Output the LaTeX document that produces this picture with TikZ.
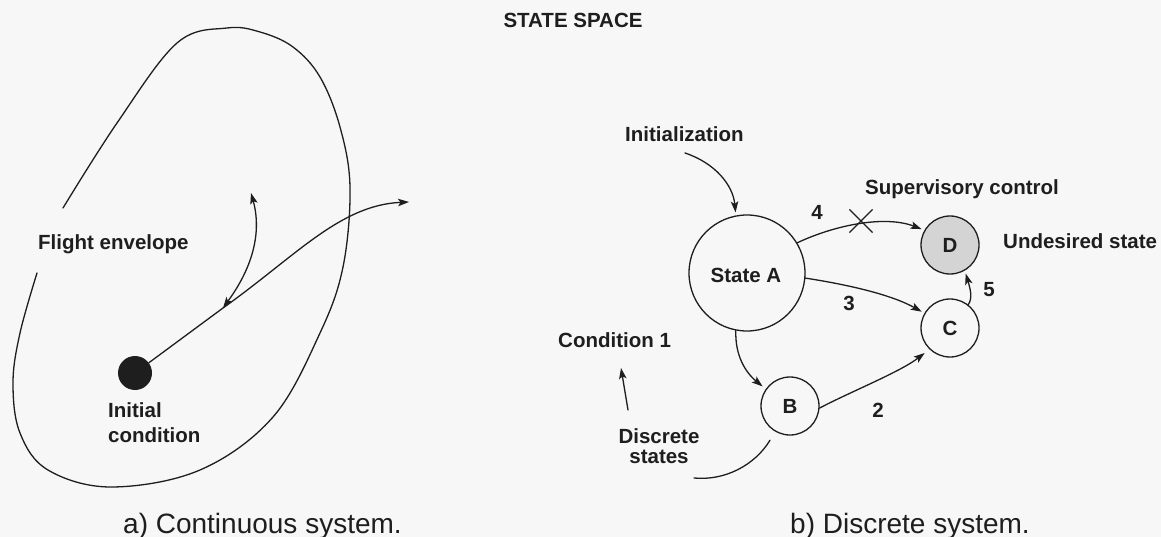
\documentclass[tikz,border=0pt]{standalone}
\usepackage{fontspec}
\setmainfont{Liberation Sans}
\usetikzlibrary{arrows.meta,shapes.misc}
\definecolor{paper}{HTML}{F7F7F7}
\definecolor{ink}{HTML}{1E1E1E}
\definecolor{shade}{HTML}{D4D4D4}
\begin{document}
\begin{tikzpicture}[x=1pt,y=-1pt,
  lbl/.style={font=\fontsize{20.5}{25}\selectfont\bfseries, text=ink, inner sep=0pt},
  captxt/.style={font=\fontsize{28}{32}\selectfont, text=ink, inner sep=0pt},
  stt/.style={circle, draw=ink, line width=1.3pt, inner sep=0pt, minimum size=58pt,
              font=\fontsize{20.5}{25}\selectfont\bfseries, text=ink},
  ln/.style={draw=ink, line width=1.3pt, line cap=round},
  tip/.style={Stealth[length=11pt,width=7.5pt,inset=2.5pt]},
  arr/.style={ln, -{Stealth[length=11pt,width=7.5pt,inset=2.5pt]}},
  biarr/.style={ln, {Stealth[length=11pt,width=7.5pt,inset=2.5pt]}-{Stealth[length=11pt,width=7.5pt,inset=2.5pt]}}
]
% canvas
\fill[paper] (0,0) rectangle (1161,537);
\useasboundingbox (0,0) rectangle (1161,537);

% heading
\node[lbl] (title) at (573,20) {STATE SPACE};

% ---------- a) continuous system ----------
\draw[ln] plot[smooth, tension=0.6] coordinates {
  (37,273) (20,333) (13,383) (20,433) (48,470) (111,487) (200,470)
  (273,417) (320,333) (343,267) (350,187) (340,127) (320,77) (293,47)
  (260,32) (227,28) (177,43) (117,123) (63,208)};
\node[lbl, anchor=base west] (envelope) at (38,250) {Flight envelope};

\node[circle, fill=ink, minimum size=34pt, inner sep=0pt] (init) at (135,373) {};
\node[lbl, anchor=base west] (initA) at (108,417) {Initial};
\node[lbl, anchor=base west] (initB) at (108,442) {condition};

\coordinate (junction) at (223,308);
\coordinate (exit) at (409,202);
\coordinate (back) at (251,193);
\draw[arr] (init) -- (junction) .. controls (296,256) and (340,205) .. (exit);
\draw[biarr] (back) .. controls (260,225) and (258,260) .. (junction);

% ---------- b) discrete system ----------
\node[stt, minimum size=116pt] (A) at (747,273) {};
\node[lbl] (Alabel) at (746,275) {State A};
\node[stt, fill=shade] (D) at (950,245) {D};
\node[stt] (C) at (950,328) {C};
\node[stt] (B) at (790,406) {B};

\node[lbl, anchor=base west] (initialization) at (625,142) {Initialization};
\coordinate (initstart) at (685,153);
\draw[arr, shorten >=3pt] (initstart) .. controls (715,163) and (733,185) .. (A.101);

\node[lbl, anchor=base west] (supervisory) at (865,195) {Supervisory control};
\node[lbl, anchor=base west] (undesired) at (1003,248) {Undesired state};

% transition 4, blocked by supervisory control
\draw[arr, shorten >=3pt] (A.31) .. controls (835,225) and (885,215) .. (D.150);
\node[cross out, draw=ink, line width=1.2pt, minimum size=22pt, inner sep=0pt] (block) at (861,221) {};
\node[lbl] (n4) at (817,212) {4};

% transition 3
\draw[arr, shorten >=3pt] (A.-5) .. controls (850,285) and (892,295) .. (C.150);
\node[lbl] (n3) at (849,303) {3};

% transition 5
\draw[arr, shorten >=3pt] (C.52) .. controls (973,298) and (970,288) .. (D.-60);
\node[lbl] (n5) at (989,290) {5};

% transition A -> B
\draw[arr, shorten >=4pt] (A.-101) .. controls (735,355) and (745,372) .. (B.145);

% transition 2
\draw[arr, shorten >=6pt] (B.-4) .. controls (850,392) and (900,372) .. (C.-134);
\node[lbl] (n2) at (878,410) {2};

% condition 1
\node[lbl, anchor=base west] (condition) at (558,347) {Condition 1};
\coordinate (condfoot) at (628,410);
\coordinate (condtip) at (621,368);
\draw[arr] (condfoot) -- (condtip);

% discrete states
\node[lbl, anchor=base] (discA) at (659,443) {Discrete};
\node[lbl, anchor=base] (discB) at (659,463) {states};
\coordinate (discend) at (694,478);
\draw[ln, shorten <=10pt] (B.-120) .. controls (755,465) and (725,481) .. (discend);

% captions
\node[captxt, anchor=base west] (capa) at (123,533) {a) Continuous system.};
\node[captxt, anchor=base west] (capb) at (790,533) {b) Discrete system.};
\end{tikzpicture}
\end{document}
